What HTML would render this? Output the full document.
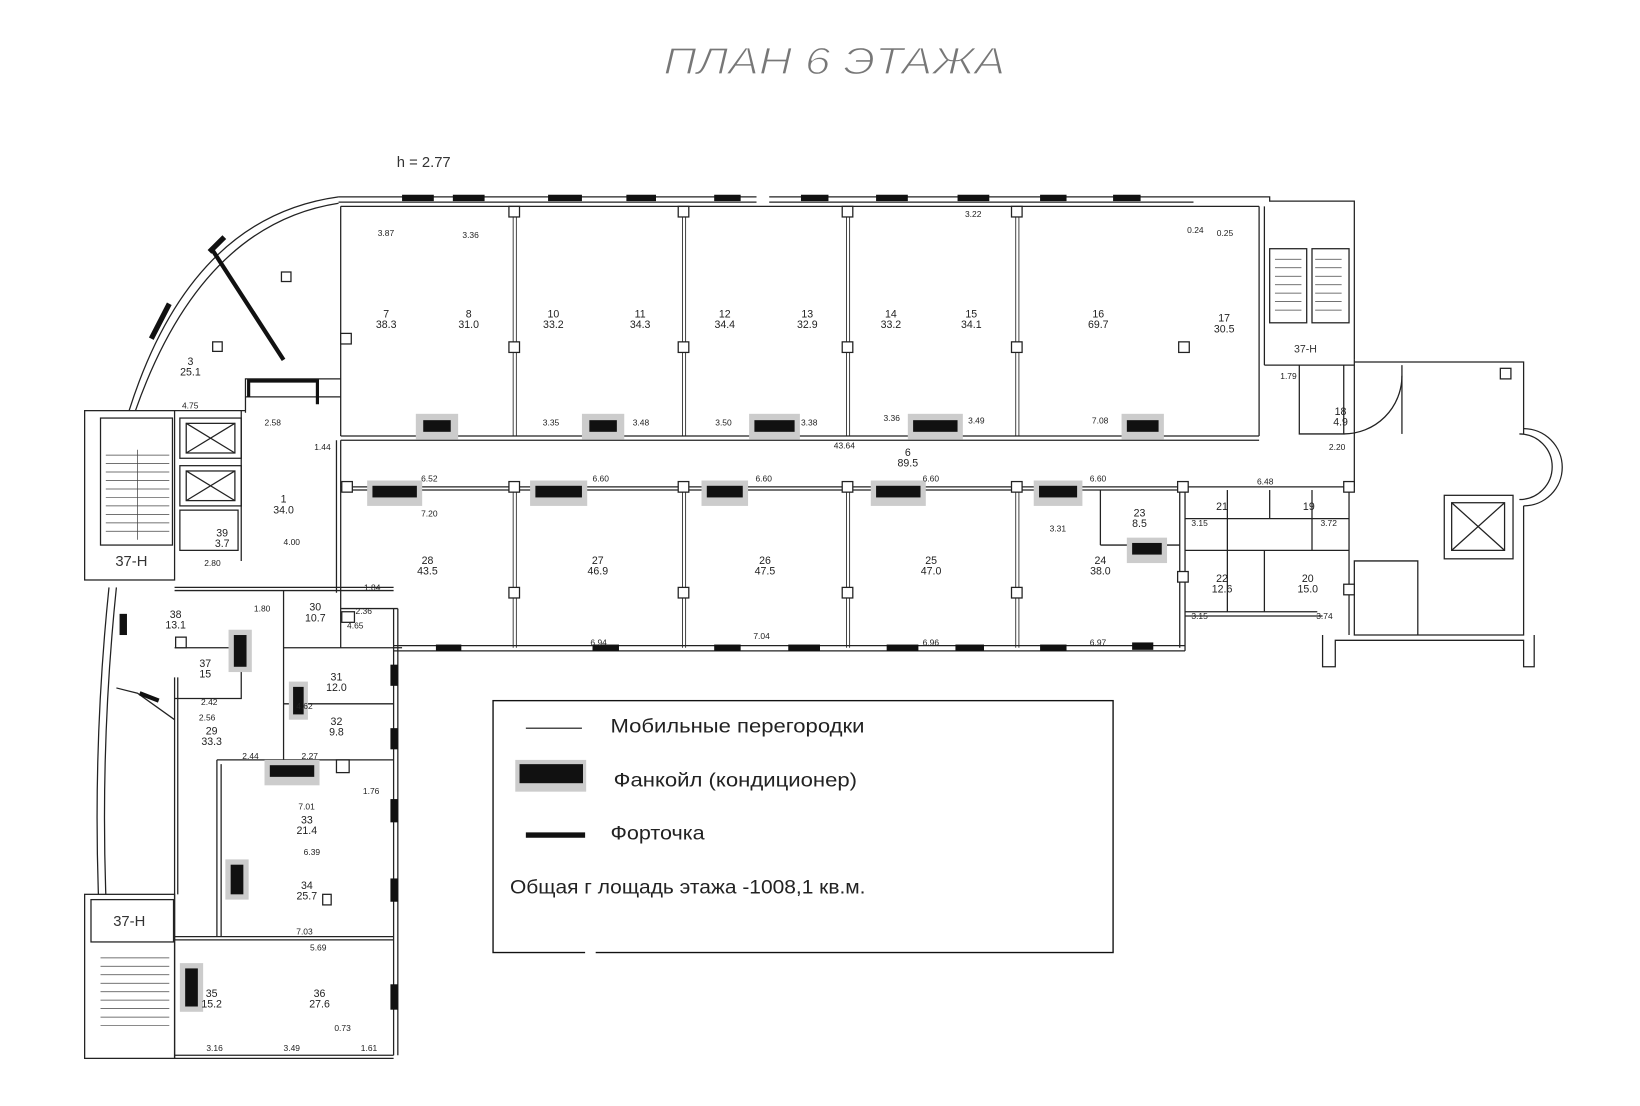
<!DOCTYPE html>
<html><head><meta charset="utf-8"><style>
html,body{margin:0;padding:0;background:#fff;}
svg{display:block;}
text{font-family:"Liberation Sans",sans-serif;fill:#222;}
.s{font-size:8px;fill:#333;}
.r{font-size:10px;text-anchor:middle;fill:#222;}
</style></head><body>
<svg width="1640" height="1106" viewBox="0 0 1550 1045" preserveAspectRatio="none" xmlns="http://www.w3.org/2000/svg">
<rect width="1550" height="1045" fill="#fff"/>
<text x="627" y="70" font-size="36" font-style="italic" textLength="323" lengthAdjust="spacingAndGlyphs" style="fill:#777;font-weight:100" stroke="#fff" stroke-width="1.2">ПЛАН 6 ЭТАЖА</text>
<text x="375" y="158" font-size="14" style="fill:#333">h = 2.77</text>

<g fill="none" stroke="#222" stroke-width="1.2">
<line x1="320" y1="186" x2="715" y2="186"/><line x1="320" y1="191" x2="715" y2="191"/>
<line x1="727" y1="186" x2="1128" y2="186"/><line x1="727" y1="191" x2="1128" y2="191"/>
<polyline points="1128,186 1200,186 1200,190 1280,190 1280,340"/>
<path d="M320,186 Q180,205 122,388"/><path d="M320,192 Q190,212 128,388"/>
<line x1="322" y1="195" x2="322" y2="412"/>
<polyline points="232,390 232,358 322,358"/>
<polyline points="232,375 322,375"/>
<rect x="80" y="388" width="85" height="160"/>
<rect x="95" y="395" width="68" height="120"/>
<rect x="170" y="395" width="58" height="38"/><rect x="176" y="400" width="46" height="28"/>
<line x1="176" y1="400" x2="222" y2="428"/><line x1="222" y1="400" x2="176" y2="428"/>
<rect x="170" y="440" width="58" height="38"/><rect x="176" y="445" width="46" height="28"/>
<line x1="176" y1="445" x2="222" y2="473"/><line x1="222" y1="445" x2="176" y2="473"/>
<rect x="170" y="482" width="55" height="38"/>
<line x1="228" y1="388" x2="228" y2="530"/>
<line x1="165" y1="388" x2="232" y2="388"/>
<line x1="322" y1="412" x2="1190" y2="412"/><line x1="322" y1="416" x2="1190" y2="416"/>
<line x1="1190" y1="195" x2="1190" y2="412"/><line x1="1195" y1="195" x2="1195" y2="345"/>
<line x1="322" y1="195" x2="1190" y2="195"/>
<line x1="1195" y1="345" x2="1280" y2="345"/>
<g stroke-width="0.8">
<line x1="485" y1="195" x2="485" y2="412"/><line x1="488" y1="195" x2="488" y2="412"/>
<line x1="645" y1="195" x2="645" y2="412"/><line x1="648" y1="195" x2="648" y2="412"/>
<line x1="800" y1="195" x2="800" y2="412"/><line x1="803" y1="195" x2="803" y2="412"/>
<line x1="960" y1="195" x2="960" y2="412"/><line x1="963" y1="195" x2="963" y2="412"/>
<line x1="485" y1="460" x2="485" y2="612"/><line x1="488" y1="460" x2="488" y2="612"/>
<line x1="645" y1="460" x2="645" y2="612"/><line x1="648" y1="460" x2="648" y2="612"/>
<line x1="800" y1="460" x2="800" y2="612"/><line x1="803" y1="460" x2="803" y2="612"/>
<line x1="960" y1="460" x2="960" y2="612"/><line x1="963" y1="460" x2="963" y2="612"/>
</g>
<line x1="322" y1="460" x2="1280" y2="460"/><line x1="322" y1="463" x2="1120" y2="463"/>
<line x1="322" y1="416" x2="322" y2="612"/><line x1="318" y1="416" x2="318" y2="560"/>
<line x1="372" y1="610" x2="1120" y2="610"/><line x1="372" y1="615" x2="1120" y2="615"/>
<line x1="1120" y1="463" x2="1120" y2="615"/><line x1="1115" y1="463" x2="1115" y2="612"/>
<line x1="1040" y1="463" x2="1040" y2="515"/><line x1="1040" y1="515" x2="1115" y2="515"/>
<line x1="1120" y1="490" x2="1275" y2="490"/><line x1="1120" y1="520" x2="1275" y2="520"/>
<line x1="1160" y1="463" x2="1160" y2="520"/><line x1="1200" y1="463" x2="1200" y2="490"/><line x1="1240" y1="463" x2="1240" y2="520"/>
<line x1="1120" y1="578" x2="1245" y2="578"/><line x1="1120" y1="582" x2="1250" y2="582"/>
<line x1="1160" y1="520" x2="1160" y2="578"/><line x1="1195" y1="520" x2="1195" y2="578"/>
<line x1="1275" y1="460" x2="1275" y2="600"/>
<line x1="1280" y1="340" x2="1280" y2="460"/>
<polyline points="1228,345 1228,410 1270,410 1270,345"/>
<polyline points="1280,342 1440,342 1440,410"/>
<path d="M1440,405 A35,35 0 0 1 1440,478"/><path d="M1436,410 A30,30 0 0 1 1436,472"/>
<polyline points="1440,478 1440,600 1280,600 1280,530 1340,530 1340,600"/>
<rect x="1365" y="468" width="65" height="60"/><rect x="1372" y="475" width="50" height="45"/>
<line x1="1372" y1="475" x2="1422" y2="520"/><line x1="1422" y1="475" x2="1372" y2="520"/>
<polyline points="1250,600 1250,630 1262,630 1262,605 1440,605 1440,630 1450,630 1450,600"/>
<path d="M1270,410 A55,55 0 0 0 1325,355"/><line x1="1325" y1="345" x2="1325" y2="410"/>
<rect x="1418" y="348" width="10" height="10"/>
<rect x="1200" y="235" width="35" height="70"/><rect x="1240" y="235" width="35" height="70"/>
<line x1="165" y1="555" x2="372" y2="555"/><line x1="165" y1="558" x2="372" y2="558"/>
<line x1="372" y1="575" x2="372" y2="997"/><line x1="376" y1="575" x2="376" y2="997"/>
<line x1="322" y1="575" x2="376" y2="575"/><line x1="372" y1="612" x2="380" y2="612"/>
<line x1="268" y1="612" x2="372" y2="612"/>
<line x1="268" y1="665" x2="372" y2="665"/>
<line x1="268" y1="558" x2="268" y2="718"/>
<line x1="205" y1="718" x2="372" y2="718"/>
<line x1="205" y1="718" x2="205" y2="885"/><line x1="209" y1="722" x2="209" y2="885"/>
<line x1="165" y1="885" x2="372" y2="885"/><line x1="165" y1="888" x2="372" y2="888"/>
<line x1="165" y1="997" x2="372" y2="997"/><line x1="165" y1="1000" x2="372" y2="1000"/>
<line x1="165" y1="640" x2="165" y2="1000"/><line x1="168" y1="640" x2="168" y2="845"/>
<polyline points="165,612 228,612 228,660 165,660"/>
<path d="M110,555 Q95,700 100,845"/><path d="M103,555 Q88,700 93,845"/>
<polyline points="110,650 130,655 165,680"/>
<rect x="80" y="845" width="85" height="155"/><rect x="86" y="850" width="78" height="40"/>
<rect x="318" y="718" width="12" height="12"/>
</g>
<g stroke="#444" stroke-width="0.7">
<line x1="100" y1="430" x2="160" y2="430"/><line x1="100" y1="438" x2="160" y2="438"/><line x1="100" y1="446" x2="160" y2="446"/><line x1="100" y1="454" x2="160" y2="454"/><line x1="100" y1="462" x2="160" y2="462"/><line x1="100" y1="470" x2="160" y2="470"/><line x1="100" y1="478" x2="160" y2="478"/><line x1="100" y1="486" x2="160" y2="486"/><line x1="100" y1="494" x2="160" y2="494"/><line x1="100" y1="502" x2="160" y2="502"/>
<line x1="130" y1="425" x2="130" y2="510"/>
<line x1="1205" y1="245" x2="1230" y2="245"/><line x1="1205" y1="253" x2="1230" y2="253"/><line x1="1205" y1="261" x2="1230" y2="261"/><line x1="1205" y1="269" x2="1230" y2="269"/><line x1="1205" y1="277" x2="1230" y2="277"/><line x1="1205" y1="285" x2="1230" y2="285"/><line x1="1205" y1="293" x2="1230" y2="293"/>
<line x1="1243" y1="245" x2="1268" y2="245"/><line x1="1243" y1="253" x2="1268" y2="253"/><line x1="1243" y1="261" x2="1268" y2="261"/><line x1="1243" y1="269" x2="1268" y2="269"/><line x1="1243" y1="277" x2="1268" y2="277"/><line x1="1243" y1="285" x2="1268" y2="285"/><line x1="1243" y1="293" x2="1268" y2="293"/>
<line x1="95" y1="905" x2="160" y2="905"/><line x1="95" y1="913" x2="160" y2="913"/><line x1="95" y1="921" x2="160" y2="921"/><line x1="95" y1="929" x2="160" y2="929"/><line x1="95" y1="937" x2="160" y2="937"/><line x1="95" y1="945" x2="160" y2="945"/><line x1="95" y1="953" x2="160" y2="953"/><line x1="95" y1="961" x2="160" y2="961"/><line x1="95" y1="969" x2="160" y2="969"/>
</g>
<line x1="200" y1="235" x2="268" y2="340" stroke="#111" stroke-width="4"/>
<polyline points="235,375 235,360 300,360 300,382" fill="none" stroke="#111" stroke-width="3"/>
<g fill="#fff" stroke="#222" stroke-width="1.2">
<rect x="481" y="195" width="10" height="10"/><rect x="641" y="195" width="10" height="10"/><rect x="796" y="195" width="10" height="10"/><rect x="956" y="195" width="10" height="10"/>
<rect x="322" y="315" width="10" height="10"/><rect x="481" y="323" width="10" height="10"/><rect x="641" y="323" width="10" height="10"/><rect x="796" y="323" width="10" height="10"/><rect x="956" y="323" width="10" height="10"/><rect x="1114" y="323" width="10" height="10"/>
<rect x="323" y="455" width="10" height="10"/><rect x="481" y="455" width="10" height="10"/><rect x="641" y="455" width="10" height="10"/><rect x="796" y="455" width="10" height="10"/><rect x="956" y="455" width="10" height="10"/><rect x="1113" y="455" width="10" height="10"/><rect x="1270" y="455" width="10" height="10"/>
<rect x="481" y="555" width="10" height="10"/><rect x="641" y="555" width="10" height="10"/><rect x="796" y="555" width="10" height="10"/><rect x="956" y="555" width="10" height="10"/><rect x="1113" y="540" width="10" height="10"/><rect x="1270" y="552" width="10" height="10"/>
<rect x="266" y="257" width="9" height="9"/><rect x="201" y="323" width="9" height="9"/>
<rect x="323" y="578" width="12" height="10"/><rect x="166" y="602" width="10" height="10"/><rect x="305" y="845" width="8" height="10"/>
</g>
<g fill="#111">
<rect x="380" y="184" width="30" height="6"/><rect x="428" y="184" width="30" height="6"/><rect x="518" y="184" width="32" height="6"/><rect x="592" y="184" width="28" height="6"/><rect x="675" y="184" width="25" height="6"/>
<rect x="757" y="184" width="26" height="6"/><rect x="828" y="184" width="30" height="6"/><rect x="905" y="184" width="30" height="6"/><rect x="983" y="184" width="25" height="6"/><rect x="1052" y="184" width="26" height="6"/>
<rect x="412" y="609" width="24" height="6"/><rect x="560" y="609" width="25" height="6"/><rect x="675" y="609" width="25" height="6"/><rect x="745" y="609" width="30" height="6"/><rect x="838" y="609" width="30" height="6"/><rect x="903" y="609" width="27" height="6"/><rect x="983" y="609" width="25" height="6"/><rect x="1070" y="607" width="20" height="7"/>
<rect x="369" y="628" width="7" height="20"/><rect x="369" y="688" width="7" height="20"/><rect x="369" y="755" width="7" height="22"/><rect x="369" y="830" width="7" height="22"/><rect x="369" y="930" width="7" height="24"/>
<rect x="113" y="580" width="7" height="20"/>
</g>
<line x1="143" y1="320" x2="160" y2="287" stroke="#111" stroke-width="5"/>
<line x1="198" y1="238" x2="212" y2="224" stroke="#111" stroke-width="5"/>
<line x1="132" y1="655" x2="150" y2="662" stroke="#111" stroke-width="4"/>
<g>
<rect x="393" y="391" width="40" height="24" fill="#ccc"/><rect x="400" y="397" width="26" height="11" fill="#111"/>
<rect x="550" y="391" width="40" height="24" fill="#ccc"/><rect x="557" y="397" width="26" height="11" fill="#111"/>
<rect x="708" y="391" width="48" height="24" fill="#ccc"/><rect x="713" y="397" width="38" height="11" fill="#111"/>
<rect x="858" y="391" width="52" height="24" fill="#ccc"/><rect x="863" y="397" width="42" height="11" fill="#111"/>
<rect x="1060" y="391" width="40" height="24" fill="#ccc"/><rect x="1065" y="397" width="30" height="11" fill="#111"/>
<rect x="347" y="454" width="52" height="24" fill="#ccc"/><rect x="352" y="459" width="42" height="11" fill="#111"/>
<rect x="501" y="454" width="54" height="24" fill="#ccc"/><rect x="506" y="459" width="44" height="11" fill="#111"/>
<rect x="663" y="454" width="44" height="24" fill="#ccc"/><rect x="668" y="459" width="34" height="11" fill="#111"/>
<rect x="823" y="454" width="52" height="24" fill="#ccc"/><rect x="828" y="459" width="42" height="11" fill="#111"/>
<rect x="977" y="454" width="46" height="24" fill="#ccc"/><rect x="982" y="459" width="36" height="11" fill="#111"/>
<rect x="1065" y="508" width="38" height="24" fill="#ccc"/><rect x="1070" y="513" width="28" height="11" fill="#111"/>
<rect x="216" y="595" width="22" height="40" fill="#ccc"/><rect x="221" y="600" width="12" height="30" fill="#111"/>
<rect x="273" y="644" width="18" height="36" fill="#ccc"/><rect x="277" y="649" width="10" height="26" fill="#111"/>
<rect x="250" y="718" width="52" height="24" fill="#ccc"/><rect x="255" y="723" width="42" height="11" fill="#111"/>
<rect x="213" y="812" width="22" height="38" fill="#ccc"/><rect x="218" y="817" width="12" height="28" fill="#111"/>
<rect x="170" y="910" width="22" height="46" fill="#ccc"/><rect x="175" y="915" width="12" height="36" fill="#111"/>
</g>
<g class="r">
<text x="180" y="345">3</text><text x="180" y="355">25.1</text>
<text x="268" y="475">1</text><text x="268" y="485">34.0</text>
<text x="210" y="507">39</text><text x="210" y="517">3.7</text>
<text x="365" y="300">7</text><text x="365" y="310">38.3</text>
<text x="443" y="300">8</text><text x="443" y="310">31.0</text>
<text x="523" y="300">10</text><text x="523" y="310">33.2</text>
<text x="605" y="300">11</text><text x="605" y="310">34.3</text>
<text x="685" y="300">12</text><text x="685" y="310">34.4</text>
<text x="763" y="300">13</text><text x="763" y="310">32.9</text>
<text x="842" y="300">14</text><text x="842" y="310">33.2</text>
<text x="918" y="300">15</text><text x="918" y="310">34.1</text>
<text x="1038" y="300">16</text><text x="1038" y="310">69.7</text>
<text x="1157" y="304">17</text><text x="1157" y="314">30.5</text>
<text x="858" y="431">6</text><text x="858" y="441">89.5</text>
<text x="1267" y="392">18</text><text x="1267" y="402">4.9</text>
<text x="404" y="533">28</text><text x="404" y="543">43.5</text>
<text x="565" y="533">27</text><text x="565" y="543">46.9</text>
<text x="723" y="533">26</text><text x="723" y="543">47.5</text>
<text x="880" y="533">25</text><text x="880" y="543">47.0</text>
<text x="1040" y="533">24</text><text x="1040" y="543">38.0</text>
<text x="1077" y="488">23</text><text x="1077" y="498">8.5</text>
<text x="1155" y="550">22</text><text x="1155" y="560">12.6</text>
<text x="1236" y="550">20</text><text x="1236" y="560">15.0</text>
<text x="1155" y="482">21</text><text x="1237" y="482">19</text>
<text x="166" y="584">38</text><text x="166" y="594">13.1</text>
<text x="298" y="577">30</text><text x="298" y="587">10.7</text>
<text x="194" y="630">37</text><text x="194" y="640">15</text>
<text x="318" y="643">31</text><text x="318" y="653">12.0</text>
<text x="318" y="685">32</text><text x="318" y="695">9.8</text>
<text x="200" y="694">29</text><text x="200" y="704">33.3</text>
<text x="290" y="778">33</text><text x="290" y="788">21.4</text>
<text x="290" y="840">34</text><text x="290" y="850">25.7</text>
<text x="200" y="942">35</text><text x="200" y="952">15.2</text>
<text x="302" y="942">36</text><text x="302" y="952">27.6</text>
</g>
<g class="s">
<text x="357" y="223">3.87</text><text x="437" y="225">3.36</text><text x="912" y="205">3.22</text><text x="1122" y="220">0.24</text>
<text x="513" y="402">3.35</text><text x="598" y="402">3.48</text><text x="676" y="402">3.50</text><text x="757" y="402">3.38</text><text x="835" y="398">3.36</text><text x="915" y="400">3.49</text><text x="1032" y="400">7.08</text>
<text x="788" y="424">43.64</text><text x="297" y="425">1.44</text><text x="250" y="402">2.58</text><text x="172" y="386">4.75</text>
<text x="398" y="455">6.52</text><text x="560" y="455">6.60</text><text x="714" y="455">6.60</text><text x="872" y="455">6.60</text><text x="1030" y="455">6.60</text><text x="1188" y="458">6.48</text>
<text x="398" y="488">7.20</text><text x="992" y="502">3.31</text><text x="1248" y="497">3.72</text><text x="1126" y="497">3.15</text>
<text x="558" y="610">6.94</text><text x="712" y="604">7.04</text><text x="872" y="610">6.96</text><text x="1030" y="610">6.97</text>
<text x="344" y="558">1.84</text><text x="1126" y="585">3.15</text><text x="1244" y="585">3.74</text>
<text x="268" y="515">4.00</text><text x="193" y="535">2.80</text><text x="240" y="578">1.80</text><text x="336" y="580">2.36</text><text x="328" y="594">4.65</text>
<text x="280" y="670">4.62</text><text x="190" y="666">2.42</text><text x="188" y="681">2.56</text>
<text x="229" y="717">2.44</text><text x="285" y="717">2.27</text><text x="343" y="750">1.76</text>
<text x="282" y="765">7.01</text><text x="287" y="808">6.39</text><text x="280" y="883">7.03</text><text x="293" y="898">5.69</text>
<text x="195" y="993">3.16</text><text x="268" y="993">3.49</text><text x="341" y="993">1.61</text><text x="316" y="974">0.73</text>
<text x="1256" y="425">2.20</text><text x="1210" y="358">1.79</text><text x="1150" y="223">0.25</text>
</g>
<text x="109" y="535" font-size="14" style="fill:#333">37-Н</text>
<text x="107" y="875" font-size="14" style="fill:#333">37-Н</text>
<text x="1223" y="333" font-size="10" style="fill:#333">37-Н</text>
<rect x="466" y="662" width="586" height="238" fill="none" stroke="#111" stroke-width="1.3"/>
<line x1="553" y1="900" x2="563" y2="900" stroke="#fff" stroke-width="3"/>
<line x1="497" y1="688" x2="550" y2="688" stroke="#111" stroke-width="1"/>
<text x="577" y="692" font-size="18" textLength="240" lengthAdjust="spacingAndGlyphs">Мобильные перегородки</text>
<rect x="487" y="718" width="67" height="30" fill="#ccc"/><rect x="491" y="722" width="60" height="18" fill="#111"/>
<text x="580" y="743" font-size="18" textLength="230" lengthAdjust="spacingAndGlyphs">Фанкойл (кондиционер)</text>
<line x1="497" y1="789" x2="553" y2="789" stroke="#111" stroke-width="5"/>
<text x="577" y="793" font-size="18" textLength="89" lengthAdjust="spacingAndGlyphs">Форточка</text>
<text x="482" y="844" font-size="18" textLength="336" lengthAdjust="spacingAndGlyphs">Общая г лощадь этажа -1008,1 кв.м.</text>
</svg>
</body></html>
